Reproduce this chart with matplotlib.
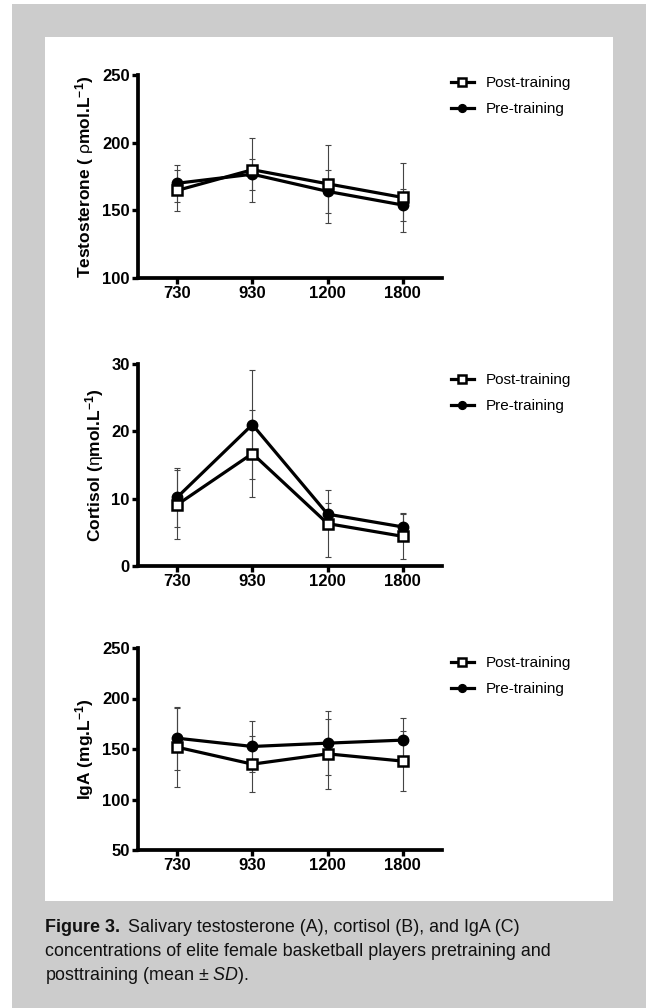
import numpy as np
import matplotlib
matplotlib.use("Agg")
import matplotlib.pyplot as plt
from matplotlib.patches import Rectangle
from matplotlib.text import Annotation

plt.rcParams['font.family'] = ['Liberation Sans', 'DejaVu Sans']
plt.rcParams['mathtext.fontset'] = 'custom'
plt.rcParams['mathtext.rm'] = 'Liberation Sans'
plt.rcParams['mathtext.it'] = 'Liberation Sans:italic'
plt.rcParams['mathtext.bf'] = 'Liberation Sans:bold'

times = ['730', '930', '1200', '1800']

# testosterone
testo_post = [164.7, 180.0, 169.6, 159.5]
testo_post_sd = [15.4, 23.6, 29.0, 25.2]
testo_pre = [170.0, 176.7, 164.0, 153.9]
testo_pre_sd = [13.5, 11.5, 16.0, 12.0]

# cortisol
cort_post = [9.1, 16.7, 6.3, 4.4]
cort_post_sd = [5.1, 6.4, 5.0, 3.4]
cort_pre = [10.2, 21.0, 7.7, 5.8]
cort_pre_sd = [4.4, 8.1, 1.6, 1.9]

# IgA
iga_post = [151.8, 135.0, 145.2, 138.0]
iga_post_sd = [39.0, 28.0, 34.5, 30.0]
iga_pre = [160.7, 152.5, 155.8, 158.8]
iga_pre_sd = [31.0, 25.0, 32.0, 22.0]

W, H = 649, 1008
fig = plt.figure(figsize=(W / 100, H / 100), dpi=100, facecolor='white')


def px_rect(x0, y0, x1, y1, color):
    fig.patches.append(Rectangle((x0 / W, 1 - y1 / H), (x1 - x0) / W, (y1 - y0) / H,
                                 transform=fig.transFigure, facecolor=color,
                                 edgecolor='none', zorder=-10))


px_rect(12, 4, 646, 1008, '#cccccc')
px_rect(45, 37, 613, 901, 'white')


def panel(top, bottom, post, post_sd, pre, pre_sd, ylim, yticks, ylabel, leg_y):
    ax = fig.add_axes([138 / W, 1 - bottom / H, 304 / W, (bottom - top) / H])
    ax.set_facecolor('none')
    x = np.arange(len(times))
    ax.errorbar(x, post, yerr=post_sd, fmt='none', ecolor='#444444', elinewidth=0.8,
                capsize=2, capthick=0.8, zorder=2)
    ax.errorbar(x, pre, yerr=pre_sd, fmt='none', ecolor='#444444', elinewidth=0.8,
                capsize=2, capthick=0.8, zorder=2)
    l_pre, = ax.plot(x, pre, '-o', color='black', lw=2.3, ms=7.5, mfc='black',
                     mec='black', zorder=3, label='Pre-training')
    l_post, = ax.plot(x, post, '-s', color='black', lw=2.3, ms=7.5, mfc='white',
                      mec='black', mew=1.8, zorder=4, label='Post-training')
    ax.set_xlim(-0.52, 3.52)
    ax.set_ylim(*ylim)
    ax.set_xticks(x)
    ax.set_xticklabels(times, fontweight='bold', fontsize=12)
    ax.set_yticks(yticks)
    ax.set_yticklabels([str(v) for v in yticks], fontweight='bold', fontsize=12)
    for s in ['top', 'right']:
        ax.spines[s].set_visible(False)
    for s in ['left', 'bottom']:
        ax.spines[s].set_linewidth(2.7)
    ax.tick_params(axis='both', width=2.4, length=4, pad=2)
    ax.set_ylabel(ylabel, fontweight='bold', fontsize=12.5, labelpad=4)
    ax.legend(handles=[l_post, l_pre], loc='upper left', frameon=False,
              bbox_to_anchor=(451 / W, 1 - (leg_y - 9) / H),
              bbox_transform=fig.transFigure, fontsize=11, handlelength=1.5,
              handletextpad=0.8, labelspacing=0.8, borderpad=0, borderaxespad=0,
              markerscale=0.75)
    return ax


panel(75, 278, testo_post, testo_post_sd, testo_pre, testo_pre_sd, (100, 250),
      [100, 150, 200, 250], r'Testosterone ( $\mathrm{\rho}$mol.L$^{\mathbf{-1}}$)', 85)
panel(364, 566, cort_post, cort_post_sd, cort_pre, cort_pre_sd, (0, 30),
      [0, 10, 20, 30], r'Cortisol ($\mathrm{\eta}$mol.L$^{\mathbf{-1}}$)', 382)
panel(648, 850, iga_post, iga_post_sd, iga_pre, iga_pre_sd, (50, 250),
      [50, 100, 150, 200, 250], r'IgA (mg.L$^{\mathbf{-1}}$)', 665)

# caption
cap_size = 12.9
head = fig.text(45 / W, 1 - 928 / H, 'Figure 3.', fontweight='bold', fontsize=cap_size,
                va='center', ha='left', color='#111111')
fig.add_artist(Annotation('Salivary testosterone (A), cortisol (B), and IgA (C)',
                          xy=(1, 0.5), xycoords=head, xytext=(6, 0),
                          textcoords='offset points', fontsize=cap_size,
                          va='center', ha='left', color='#111111'))
fig.text(45 / W, 1 - 952 / H,
         'concentrations of elite female basketball players pretraining and',
         fontsize=cap_size, va='center', ha='left', color='#111111')
fig.text(45 / W, 1 - 975 / H, r'posttraining (mean $\pm$ $\it{SD}$).',
         fontsize=cap_size, va='center', ha='left', color='#111111')

fig.savefig('out.png', dpi=100, facecolor='white')
